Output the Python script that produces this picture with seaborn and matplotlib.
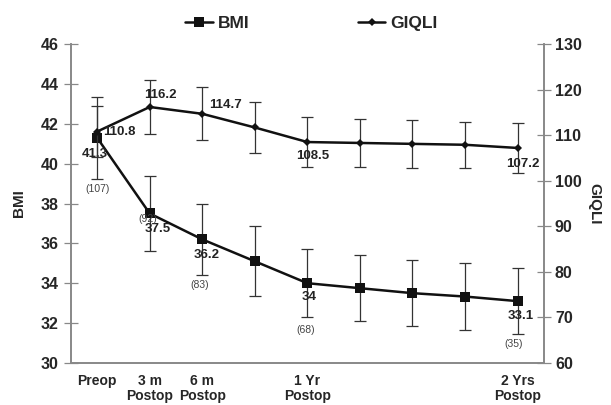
import numpy as np
import pandas as pd
import matplotlib
matplotlib.use("Agg")
import matplotlib.pyplot as plt
import seaborn as sns

# follow-up visits (months after surgery)
visits = ["Preop", "3m", "6m", "9m", "1Yr", "15m", "18m", "21m", "2Yrs"]
tick_visits = ["Preop", "3m", "6m", "1Yr", "2Yrs"]
tick_labels = ["Preop", "3 m\nPostop", "6 m\nPostop", "1 Yr\nPostop", "2 Yrs\nPostop"]

bmi = [41.3, 37.5, 36.2, 35.1, 34.0, 33.75, 33.5, 33.33, 33.1]
bmi_sd = [2.05, 1.9, 1.8, 1.75, 1.7, 1.65, 1.65, 1.67, 1.65]
giqli = [110.8, 116.2, 114.7, 111.7, 108.5, 108.3, 108.1, 107.9, 107.2]
giqli_sd = [5.6, 5.9, 5.8, 5.6, 5.4, 5.3, 5.2, 5.1, 5.5]

bmi_labels = {"Preop": "41.3", "3m": "37.5", "6m": "36.2", "1Yr": "34", "2Yrs": "33.1"}
giqli_labels = {"Preop": "110.8", "3m": "116.2", "6m": "114.7", "1Yr": "108.5", "2Yrs": "107.2"}
n_labels = {"Preop": "(107)", "3m": "(92)", "6m": "(83)", "1Yr": "(68)", "2Yrs": "(35)"}

df = pd.DataFrame({"visit": visits, "x": np.arange(len(visits)),
                   "bmi": bmi, "bmi_sd": bmi_sd, "giqli": giqli, "giqli_sd": giqli_sd})

sns.set_style("white")
plt.rcParams["font.family"] = ["Liberation Sans", "DejaVu Sans"]
plt.rcParams["font.weight"] = "bold"

fig, ax = plt.subplots(figsize=(6.11, 4.05), dpi=100)
fig.subplots_adjust(left=0.116, right=0.890, top=0.891, bottom=0.104)
ax2 = ax.twinx()

err_kw = dict(fmt="none", ecolor="#333333", elinewidth=0.9, capsize=4, capthick=0.9)
ax.errorbar(df["x"], df["bmi"], yerr=df["bmi_sd"], zorder=2, **err_kw)
ax2.errorbar(df["x"], df["giqli"], yerr=df["giqli_sd"], zorder=2, **err_kw)

sns.lineplot(data=df, x="x", y="bmi", ax=ax, color="#111111", lw=1.8,
             marker="s", markersize=7, markeredgewidth=0, label="BMI", legend=False)
sns.lineplot(data=df, x="x", y="giqli", ax=ax2, color="#111111", lw=1.8,
             marker="D", markersize=4, markeredgewidth=0, label="GIQLI", legend=False)

ax.set_xlim(-0.5, 8.5)
ax.set_ylim(30, 46)
ax.set_yticks(np.arange(30, 47, 2))
ax2.set_ylim(60, 130)
ax2.set_yticks(np.arange(60, 131, 10))
ax.set_xticks([visits.index(v) for v in tick_visits])
ax.set_xticklabels(tick_labels, fontsize=10, fontweight="bold", linespacing=1.1)
ax.tick_params(axis="x", length=0, pad=8)
ax.tick_params(axis="y", direction="inout", length=10, width=0.9, color="#888888",
               labelsize=11.5, pad=4)
ax2.tick_params(axis="y", direction="inout", length=10, width=0.9, color="#888888",
                labelsize=11.5, pad=3)
for lab in ax.get_yticklabels() + ax2.get_yticklabels():
    lab.set_fontweight("bold")

for a in (ax, ax2):
    a.spines["top"].set_visible(False)
    for side in ("left", "right", "bottom"):
        a.spines[side].set_color("#888888")
        a.spines[side].set_linewidth(1.2)

ax.set_xlabel("")
ax.set_ylabel("BMI", fontsize=11, fontweight="bold", labelpad=10)
ax2.set_ylabel("GIQLI", fontsize=11, fontweight="bold", rotation=270, labelpad=14)

# value annotations (offsets in points)
bmi_off = {"Preop": (-1.5, -12), "3m": (6, -11), "6m": (3, -11.5), "1Yr": (1.5, -9.6), "2Yrs": (2, -11)}
giqli_off = {"Preop": (16, 0), "3m": (8, 8.5), "6m": (16.5, 6.5), "1Yr": (4, -10), "2Yrs": (3.5, -11.5)}
n_off = {"Preop": (0, -37), "3m": (-1.5, -4), "6m": (-2, -33), "1Yr": (-1, -34), "2Yrs": (-3, -31)}
for v, t in bmi_labels.items():
    i = visits.index(v)
    ax.annotate(t, (i, bmi[i]), xytext=bmi_off[v], textcoords="offset points",
                ha="center", va="center", fontsize=9.5, fontweight="bold", color="#222222")
for v, t in giqli_labels.items():
    i = visits.index(v)
    ax2.annotate(t, (i, giqli[i]), xytext=giqli_off[v], textcoords="offset points",
                 ha="center", va="center", fontsize=9.5, fontweight="bold", color="#222222")
for v, t in n_labels.items():
    i = visits.index(v)
    ax.annotate(t, (i, bmi[i]), xytext=n_off[v], textcoords="offset points",
                ha="center", va="center", fontsize=7.5, fontweight="normal", color="#444444")

h1, l1 = ax.get_legend_handles_labels()
h2, l2 = ax2.get_legend_handles_labels()
fig.legend(h1 + h2, l1 + l2, loc="upper center", bbox_to_anchor=(0.51, 1.0), ncol=2,
           frameon=False, handlelength=1.6, handletextpad=0.3,
           columnspacing=6.2, prop={"weight": "bold", "size": 12.5})

fig.savefig("out.png", dpi=100)
